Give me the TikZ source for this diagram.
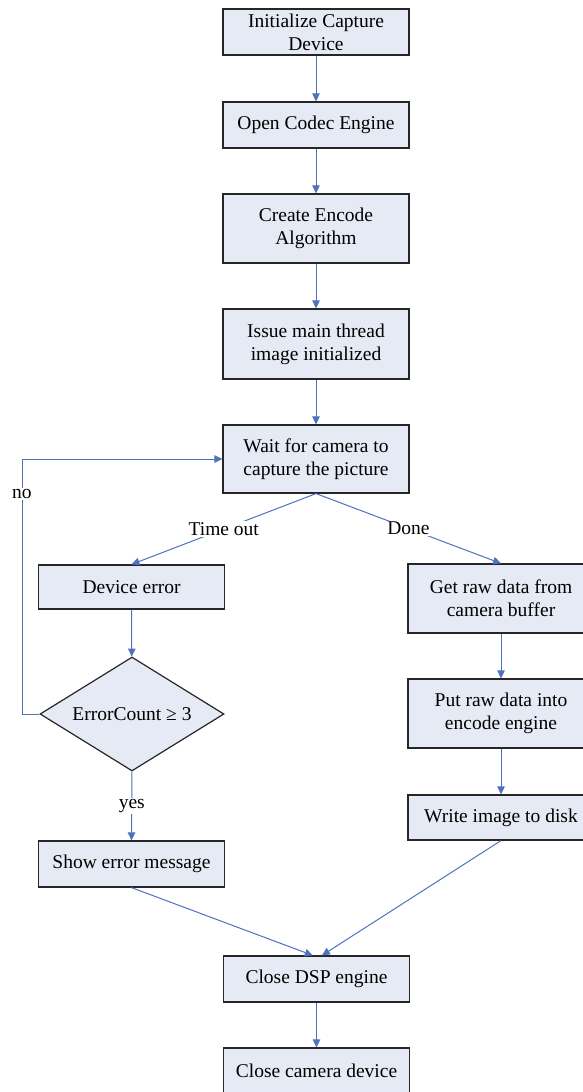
\documentclass[tikz,border=0pt]{standalone}
\usepackage{fontspec}
\setmainfont{Liberation Serif}
\usetikzlibrary{arrows.meta,shapes.geometric}
\definecolor{conn}{HTML}{4F72BE}
\definecolor{boxfill}{HTML}{E6EAF4}
\definecolor{boxline}{HTML}{262626}
\newcommand{\diafont}{\fontsize{19.5}{23}\selectfont}
\begin{document}
\begin{tikzpicture}[x=1pt,y=-1pt,
  box/.style={draw=boxline, fill=boxfill, line width=1.2pt, minimum width=186pt,
    minimum height=46pt, inner sep=0pt, align=center, font=\diafont},
  tallbox/.style={box, minimum height=69pt},
  dec/.style={diamond, aspect=1.614, draw=boxline, fill=boxfill, line width=1.2pt,
    minimum width=184pt, minimum height=114pt, inner sep=0pt, font=\diafont},
  arr/.style={draw=conn, line width=1pt, -{Triangle[length=8pt,width=7.5pt]}},
  lbl/.style={fill=white, inner sep=1.5pt, font=\diafont}]
\useasboundingbox (0,0) rectangle (583,1092);

\node[box] (init) at (316,32) {Initialize Capture\\Device};
\node[box] (codec) at (316,125) {Open Codec Engine};
\node[tallbox] (create) at (316,228.5) {Create Encode\\Algorithm};
\node[tallbox, minimum height=70pt] (issue) at (316,344) {Issue main thread\\image initialized};
\node[tallbox, minimum height=68pt] (wait) at (316,459) {Wait for camera to\\capture the picture};

\node[box, minimum height=44pt] (deverr) at (131.5,587) {Device error};
\node[dec] (dia) at (132,714) {ErrorCount ≥ 3};
\node[box] (showerr) at (131.5,864) {Show error message};

\node[tallbox] (getraw) at (501,598.5) {Get raw data from\\camera buffer};
\node[tallbox] (putraw) at (501,713.5) {Put raw data into\\encode engine};
\node[box, minimum height=45pt] (write) at (501,817.5) {Write image to disk};

\node[box] (closedsp) at (316.5,979) {Close DSP engine};
\node[box] (closecam) at (316.5,1071) {Close camera device};

\coordinate (loopb) at (22,714);
\coordinate (loopc) at (22,459);

\draw[arr] (init) -- (codec);
\draw[arr] (codec) -- (create);
\draw[arr] (create) -- (issue);
\draw[arr] (issue) -- (wait);
\draw[arr] (wait.south) -- node[lbl] {Time out} (deverr.north);
\draw[arr] (wait.south) -- node[lbl] {Done} (getraw.north);
\draw[arr] (deverr) -- (dia);
\draw[arr] (dia.south) -- node[lbl] {yes} (showerr.north);
\draw[arr] (dia.west) -- (loopb) -- node[lbl, pos=0.863] {no} (loopc) -- (wait.west);
\draw[arr] (getraw) -- (putraw);
\draw[arr] (putraw) -- (write);
\draw[arr] (showerr.south) -- (closedsp.99);
\draw[arr] (write.south) -- (closedsp.77);
\draw[arr] (closedsp) -- (closecam);
\end{tikzpicture}
\end{document}
